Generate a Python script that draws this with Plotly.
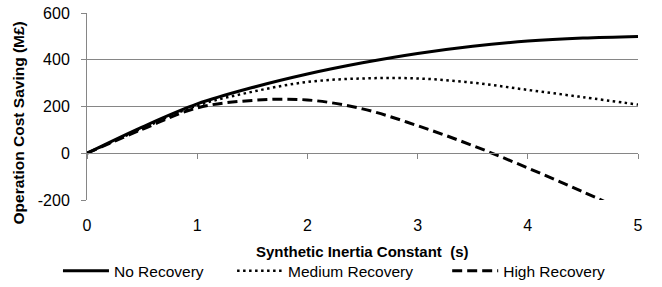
import plotly.graph_objects as go

x_vals = [0, 0.5, 1, 1.5, 2, 2.5, 3, 3.5, 4, 4.5, 5]
no_recovery = [0, 112, 211, 281, 339, 387, 427, 458, 480, 493, 500]
medium_recovery = [0, 106, 204, 263, 305, 320, 320, 302, 271, 240, 208]
high_recovery = [0, 102, 194, 226, 228, 190, 118, 33, -63, -165, -272]
x_ticks = [0, 1, 2, 3, 4, 5]
y_ticks = [-200, 0, 200, 400, 600]
y_tick_text = ["-200", "0", "200", "400", "600"]

FONT = "Liberation Sans"
GRID = "#868686"
LEG_FONT = dict(family=FONT, size=15.5, color="#000000")

fig = go.Figure()
fig.add_trace(go.Scatter(x=x_vals, y=no_recovery, mode="lines", name="No Recovery",
                         legend="legend",
                         line=dict(color="black", width=3, shape="spline")))
fig.add_trace(go.Scatter(x=x_vals, y=medium_recovery, mode="lines", name="Medium Recovery",
                         legend="legend2",
                         line=dict(color="black", width=2.5, shape="spline", dash="2.5px,3.5px")))
fig.add_trace(go.Scatter(x=x_vals, y=high_recovery, mode="lines", name="High Recovery",
                         legend="legend3",
                         line=dict(color="black", width=3, shape="spline", dash="10px,5px")))
# helper trace for the axis that crosses at y=0
fig.add_trace(go.Scatter(x=[0], y=[0], xaxis="x2", mode="lines", showlegend=False,
                         hoverinfo="skip", line=dict(width=0)))

leg_common = dict(orientation="h", xanchor="left", y=-0.38, yanchor="middle",
                  itemwidth=46, font=LEG_FONT, bgcolor="rgba(0,0,0,0)")

fig.update_layout(
    width=662, height=287,
    margin=dict(l=87, r=24, t=13, b=87, autoexpand=False),
    paper_bgcolor="white", plot_bgcolor="white",
    font=dict(family=FONT, size=15, color="#000000"),
    showlegend=True,
    legend=dict(x=-0.0527, **leg_common),
    legend2=dict(x=0.2633, **leg_common),
    legend3=dict(x=0.6537, **leg_common),
    xaxis=dict(range=[0, 5], tickvals=x_ticks, showgrid=False, zeroline=False,
               showline=False, ticks="", tickfont=dict(size=16), ticklabelstandoff=14),
    xaxis2=dict(range=[0, 5], tickvals=x_ticks, overlaying="x", anchor="free",
                position=0.2513, showline=True, linecolor=GRID, linewidth=1,
                ticks="outside", ticklen=5, tickcolor=GRID, showticklabels=False,
                showgrid=False, zeroline=False),
    yaxis=dict(range=[-200, 600], tickvals=y_ticks, ticktext=y_tick_text,
               showgrid=True, gridcolor=GRID, automargin=False,
               gridwidth=1, zeroline=False, showline=True, linecolor=GRID,
               ticks="outside", ticklen=5, tickcolor=GRID, tickfont=dict(size=16),
               ticklabelstandoff=8),
    annotations=[
        dict(text="<b>Operation Cost Saving (M£)</b>", xref="paper", yref="paper",
             x=-0.125, y=0.41, xanchor="center", yanchor="middle", textangle=-90,
             showarrow=False, font=dict(family=FONT, size=15.5, color="#000000")),
        dict(text="<b>Synthetic Inertia Constant  (s)</b>", xref="paper", yref="paper",
             x=0.5, y=-0.273, xanchor="center", yanchor="middle", showarrow=False,
             font=dict(family=FONT, size=15, color="#000000")),
    ],
)

fig.write_html("out.html", config={"displayModeBar": False},
               post_script="document.body.style.margin='0';document.body.style.overflow='hidden';")
